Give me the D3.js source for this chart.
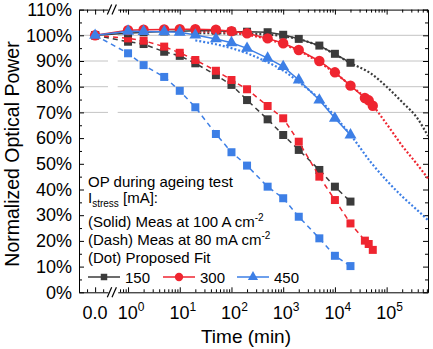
<!DOCTYPE html>
<html>
<head>
<meta charset="utf-8">
<script src="https://cdn.jsdelivr.net/npm/d3@7/dist/d3.min.js"></script>
<style>
  body { margin: 0; background: #fff; }
  svg { font-family: "Liberation Sans", Arial, sans-serif; display: block; }
</style>
</head>
<body>
<svg id="chart"></svg>
<script>
// ageing time in minutes, 0 = start of test
const times = [0, 1, 2, 5, 10, 20, 50, 100, 200, 500, 1000, 2000, 5000, 10000, 20000];
// the 300 mA devices ran a bit longer
const times300 = [0, 1, 2, 5, 10, 20, 50, 100, 200, 500, 1000, 2000, 5000, 10000, 20000, 38000, 45000, 54000];
const fitTimes = [20, 50, 100, 200, 500, 1000, 2000, 5000, 10000, 20000, 50000, 100000, 200000, 400000, 630000];

// normalized optical power (%)
const solid150 = [100, 100.8, 101.2, 101.5, 101.6, 101.8, 101.8, 101.5, 101.4, 101.2, 100.2, 98.6, 96.0, 92.8, 89.3];
const solid300 = [100, 102.0, 102.2, 102.3, 102.4, 102.4, 102.2, 101.6, 100.8, 98.8, 96.9, 94.3, 90.0, 85.6, 80.4, 75.6, 74.7, 72.6];
const solid450 = [100, 101.6, 101.5, 101.4, 101.2, 100.1, 98.6, 97.1, 94.9, 91.1, 87.8, 82.6, 74.8, 67.7, 61.2];

const dash150 = [100, 97.5, 96.6, 93.6, 92.0, 89.1, 84.5, 80.7, 74.8, 67.3, 61.2, 55.4, 47.6, 41.1, 35.3];
const dash300 = [100, 98.8, 97.9, 95.6, 93.2, 90.4, 86.2, 82.6, 79.0, 72.5, 67.7, 58.6, 45.0, 35.9, 26.8, 20.1, 18.8, 16.5];
const dash450 = [100, 93.0, 88.4, 83.8, 78.4, 72.0, 61.6, 54.5, 49.3, 41.1, 36.6, 29.4, 21.0, 14.2, 10.2];

const fit150 = [100.8, 100.8, 100.7, 100.6, 100.3, 99.7, 98.5, 95.8, 92.6, 89.2, 85.1, 80.0, 74.0, 67.5, 60.8];
const fit300 = [101.5, 101.3, 101.0, 100.2, 98.5, 96.5, 94.0, 89.5, 85.3, 80.5, 73.5, 65.5, 57.0, 49.5, 44.3];
const fit450 = [98.0, 96.5, 95.0, 93.0, 89.5, 86.3, 81.8, 75.2, 68.5, 61.3, 50.5, 43.5, 37.3, 31.8, 28.1];

const currents = ['150', '300', '450'];
const colors = ['#3b3b3b', '#ef2530', '#3d7fe6'];
const yTicks = [0, 10, 20, 30, 40, 50, 60, 70, 80, 90, 100, 110];
const gridValues = [70, 80, 90, 100];
const decades = [1, 10, 100, 1000, 10000, 100000];

const width = 433, height = 349;
const plotLeft = 79, plotRight = 428, plotTop = 9.6, plotBottom = 292.3;
const breakL = 108, breakR = 117.7;

const svg = d3.select('#chart').attr('width', width).attr('height', height);

const y = d3.scaleLinear().domain([0, 110]).range([plotBottom, plotTop]);
// short linear piece for t = 0, then a log axis after the break
const xLin = d3.scaleLinear().domain([-1, 0.8]).range([plotLeft, breakL]);
const xLog = d3.scaleLog().domain([Math.pow(10, -0.2), Math.pow(10, 5.8)]).range([breakR, plotRight]);
const xPos = t => t === 0 ? xLin(0) : xLog(t);

const minorLog = [];
[0.1, 1, 10, 100, 1000, 10000, 100000].forEach(d => {
  for (let k = 2; k <= 9; k++) {
    const v = d * k;
    if (v >= xLog.domain()[0] && v <= xLog.domain()[1]) minorLog.push(v);
  }
});

// grid lines, interrupted at the axis break
const grid = svg.append('g').attr('class', 'grid');
gridValues.forEach(v => {
  [[plotLeft, breakL], [breakR, plotRight]].forEach(seg => {
    grid.append('line')
      .attr('x1', seg[0]).attr('x2', seg[1])
      .attr('y1', y(v)).attr('y2', y(v))
      .attr('stroke', '#c4c4c4').attr('stroke-width', 1);
  });
});

function styleAxis(g) {
  g.selectAll('path, line').attr('stroke', '#000').attr('stroke-width', 1);
  g.selectAll('text').attr('fill', '#000');
}

// y axes
svg.append('g')
  .attr('transform', 'translate(' + plotLeft + ',0)')
  .call(d3.axisLeft(y).tickValues(yTicks).tickSize(-5).tickSizeOuter(0).tickPadding(7)
    .tickFormat(d => d + '%'))
  .call(styleAxis)
  .call(g => g.attr('font-size', 18).attr('font-family', null));
svg.append('g')
  .attr('transform', 'translate(' + plotLeft + ',0)')
  .call(d3.axisLeft(y).tickValues(d3.range(5, 110, 10)).tickSize(-3).tickFormat(''))
  .call(styleAxis)
  .call(g => g.select('.domain').remove());
svg.append('g')
  .attr('transform', 'translate(' + plotRight + ',0)')
  .call(d3.axisRight(y).tickValues(yTicks).tickSize(-5).tickSizeOuter(0).tickFormat(''))
  .call(styleAxis);
svg.append('g')
  .attr('transform', 'translate(' + plotRight + ',0)')
  .call(d3.axisRight(y).tickValues(d3.range(5, 110, 10)).tickSize(-3).tickFormat(''))
  .call(styleAxis)
  .call(g => g.select('.domain').remove());

// x axes, top and bottom, each in two pieces
[[plotBottom, d3.axisBottom], [plotTop, d3.axisTop]].forEach(([yy, axisFn]) => {
  const parts = [
    [xLin, [0], 5, true], [xLin, [-0.5, 0.5], 3, false],
    [xLog, decades, 5, true], [xLog, minorLog, 3, false]
  ];
  parts.forEach(([sc, vals, size, keepDomain]) => {
    const g = svg.append('g')
      .attr('transform', 'translate(0,' + yy + ')')
      .call(axisFn(sc).tickValues(vals).tickSize(-size).tickSizeOuter(0).tickFormat(''))
      .call(styleAxis);
    if (!keepDomain) g.select('.domain').remove();
  });
  // break marks
  [breakL + 1.5, breakR - 3.5].forEach(bx => {
    svg.append('line')
      .attr('x1', bx - 2.2).attr('y1', yy + 5)
      .attr('x2', bx + 2.2).attr('y2', yy - 5)
      .attr('stroke', '#000').attr('stroke-width', 1.2);
  });
});

// x tick labels
const xLabels = svg.append('g').attr('font-size', 18).attr('text-anchor', 'middle');
xLabels.append('text').attr('x', xLin(0)).attr('y', plotBottom + 27).text('0.0');
decades.forEach(d => {
  const t = xLabels.append('text').attr('x', xLog(d) + 3).attr('y', plotBottom + 27);
  t.append('tspan').text('10');
  t.append('tspan').attr('font-size', 12).attr('dy', -8).text(Math.round(Math.log10(d)));
});

// axis titles
svg.append('text')
  .attr('transform', 'translate(18.5,154) rotate(-90)')
  .attr('text-anchor', 'middle').attr('font-size', 19.5)
  .text('Normalized Optical Power');
svg.append('text')
  .attr('x', 246).attr('y', 343)
  .attr('text-anchor', 'middle').attr('font-size', 19)
  .text('Time (min)');

const plot = svg.append('g');
const line = d3.line().x(d => xPos(d.t)).y(d => y(d.v));
const fitLine = d3.line().x(d => xPos(d.t)).y(d => y(d.v)).curve(d3.curveMonotoneX);
const pairs = (ts, vs) => vs.map((v, i) => ({ t: ts[i], v: v }));

const fits = [fit150, fit300, fit450];
const dashes = [[times, dash150], [times300, dash300], [times, dash450]];
const solids = [[times, solid150], [times300, solid300], [times, solid450]];
const solidSymbols = [
  d3.symbol().type(d3.symbolSquare).size(64),
  d3.symbol().type(d3.symbolCircle).size(85),
  d3.symbol().type(d3.symbolTriangle).size(62)
];
const square = d3.symbol().type(d3.symbolSquare).size(64);

// proposed fit (dotted)
fits.forEach((vals, i) => {
  plot.append('path')
    .attr('d', fitLine(pairs(fitTimes, vals)))
    .attr('fill', 'none').attr('stroke', colors[i])
    .attr('stroke-width', 2.2).attr('stroke-dasharray', '2,2');
});

// 80 mA cm-2 measurements (dashed)
dashes.forEach(([ts, vals], i) => {
  const pts = pairs(ts, vals);
  plot.append('path')
    .attr('d', line(pts))
    .attr('fill', 'none').attr('stroke', colors[i])
    .attr('stroke-width', 1.5).attr('stroke-dasharray', '5,4');
  plot.selectAll(null).data(pts).enter().append('path')
    .attr('transform', d => 'translate(' + xPos(d.t) + ',' + y(d.v) + ')')
    .attr('d', square).attr('fill', colors[i]);
});

// 100 A cm-2 measurements (solid)
solids.forEach(([ts, vals], i) => {
  const pts = pairs(ts, vals);
  plot.append('path')
    .attr('d', line(pts))
    .attr('fill', 'none').attr('stroke', colors[i]).attr('stroke-width', 1.5);
  plot.selectAll(null).data(pts).enter().append('path')
    .attr('transform', d => 'translate(' + xPos(d.t) + ',' + y(d.v) + ')')
    .attr('d', solidSymbols[i]).attr('fill', colors[i]);
});

// legend
const legend = svg.append('g').attr('font-size', 15).attr('fill', '#000');
const lx = 88;
legend.append('text').attr('x', lx).attr('y', 187).text('OP during ageing test');
const ist = legend.append('text').attr('x', lx).attr('y', 203);
ist.append('tspan').text('I');
ist.append('tspan').attr('font-size', 10).attr('dy', 4).text('stress');
ist.append('tspan').attr('dy', -4).text(' [mA]:');
[['(Solid) Meas at 100 A cm', 227], ['(Dash) Meas at 80 mA cm', 245]].forEach(([s, yy]) => {
  const t = legend.append('text').attr('x', lx).attr('y', yy);
  t.append('tspan').text(s);
  t.append('tspan').attr('font-size', 10).attr('dy', -6).text('-2');
});
legend.append('text').attr('x', lx).attr('y', 263).text('(Dot) Proposed Fit');

const legendSymbols = [
  d3.symbol().type(d3.symbolSquare).size(42),
  d3.symbol().type(d3.symbolCircle).size(55),
  d3.symbol().type(d3.symbolTriangle).size(45)
];
const entryX = [88, 163, 237];
currents.forEach((c, i) => {
  const x0 = entryX[i], ly = 277;
  legend.append('line')
    .attr('x1', x0).attr('x2', x0 + 32).attr('y1', ly).attr('y2', ly)
    .attr('stroke', colors[i]).attr('stroke-width', 1.5);
  legend.append('path')
    .attr('transform', 'translate(' + (x0 + 16) + ',' + ly + ')')
    .attr('d', legendSymbols[i]).attr('fill', colors[i]);
  legend.append('text').attr('x', x0 + 37).attr('y', ly + 5.5).text(c);
});
</script>
</body>
</html>
